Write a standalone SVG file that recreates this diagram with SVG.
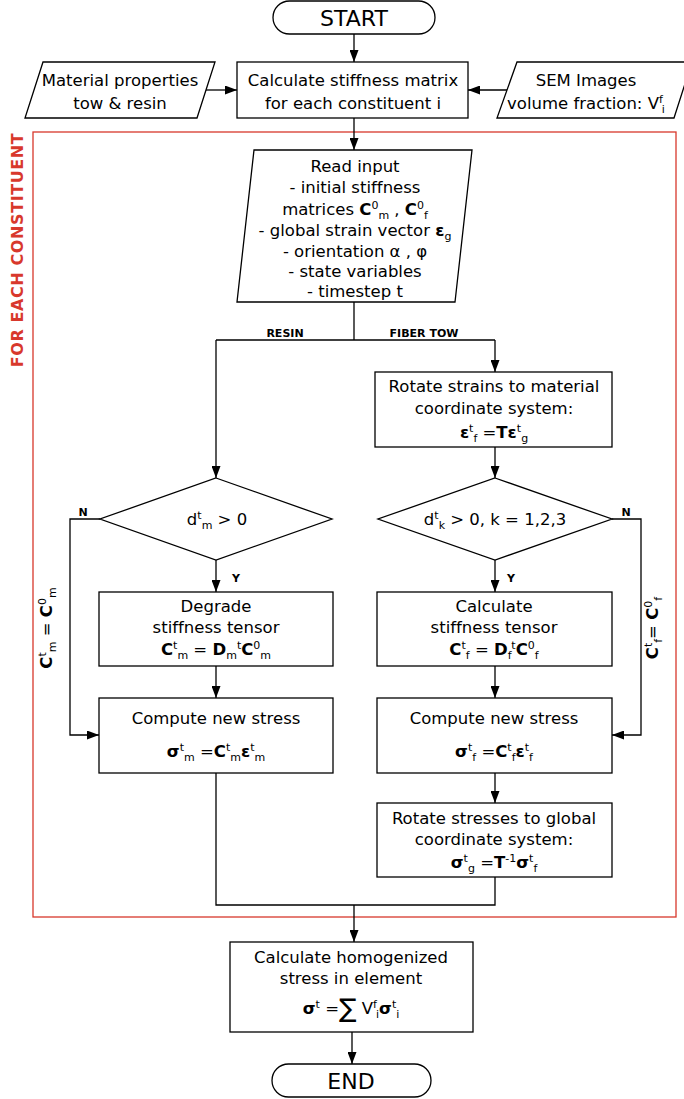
<svg xmlns="http://www.w3.org/2000/svg" width="684" height="1099" viewBox="0 0 684 1099">
<style>
.t{font-family:"DejaVu Sans",Verdana,sans-serif;font-size:16.5px;fill:#000;text-anchor:middle;font-variant-ligatures:none}
.s{font-size:11px;font-weight:normal}
.b{font-weight:bold}
.lbl{font-family:"DejaVu Sans",Verdana,sans-serif;font-size:11px;font-weight:bold;fill:#000;text-anchor:middle}
.big{font-size:22px}
.box{fill:#fff;stroke:#000;stroke-width:1.3}
.ln{fill:none;stroke:#000;stroke-width:1.3}
.arr{fill:none;stroke:#000;stroke-width:1.3;marker-end:url(#ah)}
</style>
<defs>
<marker id="ah" viewBox="0 0 12 9" refX="12" refY="4.5" markerWidth="12" markerHeight="9" markerUnits="userSpaceOnUse" orient="auto"><path d="M0,0 L12,4.5 L0,9 z" fill="#000"/></marker>
</defs>
<rect width="684" height="1099" fill="#fff"/>

<g id="loop">
<rect x="33" y="132" width="643" height="785" fill="none" stroke="#d8382c" stroke-width="1.3"/>
<text transform="translate(23,250) rotate(-90)" style="font-family:'DejaVu Sans',Verdana,sans-serif;font-size:16px;font-weight:bold;fill:#d8382c;text-anchor:middle;letter-spacing:0.6px">FOR EACH CONSTITUENT</text>
</g>

<g id="connectors">
<path class="arr" d="M354,34 V62"/>
<path class="arr" d="M206,90 H237"/>
<path class="arr" d="M507,90 H468"/>
<path class="arr" d="M354,118 V150"/>
<path class="ln" d="M354,302 V340"/>
<path class="ln" d="M216,340 H495"/>
<path class="arr" d="M216,340 V478"/>
<path class="arr" d="M495,340 V372"/>
<path class="arr" d="M495,447 V478"/>
<path class="arr" d="M216,560 V592"/>
<path class="arr" d="M495,560 V592"/>
<path class="arr" d="M216,666 V698"/>
<path class="arr" d="M495,666 V698"/>
<path class="arr" d="M100,519 H70 V735 H99"/>
<path class="arr" d="M612,519 H641 V735 H612"/>
<path class="arr" d="M495,773 V803"/>
<path class="ln" d="M216,773 V905 H495 V877"/>
<path class="arr" d="M354,905 V942"/>
<path class="arr" d="M352,1032 V1064"/>
<text class="lbl" x="285" y="337">RESIN</text>
<text class="lbl" x="424" y="337">FIBER TOW</text>
<text class="lbl" x="83" y="516">N</text>
<text class="lbl" x="626" y="516">N</text>
<text class="lbl" x="236" y="582">Y</text>
<text class="lbl" x="511" y="582">Y</text>
<text class="t b" transform="translate(52,628) rotate(-90)">C<tspan class="s" dy="-6">t</tspan><tspan class="s" dy="10">m</tspan><tspan style="font-weight:normal" dy="-4"> = </tspan>C<tspan class="s" dy="-6">0</tspan><tspan class="s" dy="10">m</tspan></text>
<text class="t b" transform="translate(658,628) rotate(-90)">C<tspan class="s" dy="-6">t</tspan><tspan class="s" dy="10">f</tspan><tspan style="font-weight:normal" dy="-4">= </tspan>C<tspan class="s" dy="-6">0</tspan><tspan class="s" dy="10">f</tspan></text>
</g>

<g id="start">
<rect class="box" x="273" y="1" width="162" height="33" rx="16.5"/>
<text class="t big" x="354" y="26">START</text>
</g>

<g id="material">
<path class="box" d="M43,62 H215 L197,118 H25 Z"/>
<text class="t" x="120" y="86">Material properties</text>
<text class="t" x="120" y="109">tow &amp; resin</text>
</g>

<g id="calc-stiffness">
<rect class="box" x="237" y="62" width="231" height="56"/>
<text class="t" x="353" y="86">Calculate stiffness matrix</text>
<text class="t" x="353" y="109">for each constituent i</text>
</g>

<g id="sem">
<path class="box" d="M517,62 H692 L674,118 H497 Z"/>
<text class="t" x="586" y="86">SEM Images</text>
<text class="t" x="586" y="109">volume fraction: V<tspan class="s" dy="-6">f</tspan><tspan class="s" dy="10" dx="-1">i</tspan></text>
</g>

<g id="read-input">
<path class="box" d="M254,150 H472 L455,302 H237 Z"/>
<text class="t" x="355" y="172">Read input</text>
<text class="t" x="355" y="193">- initial stiffness</text>
<text class="t" x="355" y="215">matrices <tspan class="b">C</tspan><tspan class="s" dy="-6">0</tspan><tspan class="s" dy="10">m</tspan><tspan dy="-4"> , </tspan><tspan class="b">C</tspan><tspan class="s" dy="-6">0</tspan><tspan class="s" dy="10">f</tspan></text>
<text class="t" x="355" y="236">- global strain vector <tspan class="b">ε</tspan><tspan class="s" dy="4">g</tspan></text>
<text class="t" x="355" y="257">- orientation α , φ</text>
<text class="t" x="355" y="277">- state variables</text>
<text class="t" x="355" y="297">- timestep t</text>
</g>

<g id="rotate-strains">
<rect class="box" x="375" y="372" width="237" height="75"/>
<text class="t" x="494" y="392">Rotate strains to material</text>
<text class="t" x="494" y="414">coordinate system:</text>
<text class="t" x="494" y="438"><tspan class="b">ε</tspan><tspan class="s" dy="-6">t</tspan><tspan class="s" dy="10">f</tspan><tspan dy="-4"> =</tspan><tspan class="b">Tε</tspan><tspan class="s" dy="-6">t</tspan><tspan class="s" dy="10">g</tspan></text>
</g>

<g id="decision-resin">
<path class="box" d="M216,478 L332,519 L216,560 L100,519 Z"/>
<text class="t" x="217" y="525">d<tspan class="s" dy="-6">t</tspan><tspan class="s" dy="10">m</tspan><tspan dy="-4"> &gt; 0</tspan></text>
</g>

<g id="decision-fiber">
<path class="box" d="M495,478 L612,519 L495,560 L378,519 Z"/>
<text class="t" x="495" y="525">d<tspan class="s" dy="-6">t</tspan><tspan class="s" dy="10">k</tspan><tspan dy="-4"> &gt; 0, k = 1,2,3</tspan></text>
</g>

<g id="degrade">
<rect class="box" x="99" y="592" width="234" height="74"/>
<text class="t" x="216" y="612">Degrade</text>
<text class="t" x="216" y="633">stiffness tensor</text>
<text class="t" x="216" y="655"><tspan class="b">C</tspan><tspan class="s" dy="-6">t</tspan><tspan class="s" dy="10">m</tspan><tspan dy="-4"> = </tspan><tspan class="b">D</tspan><tspan class="s" dy="4">m</tspan><tspan class="s" dy="-10">t</tspan><tspan class="b" dy="6">C</tspan><tspan class="s" dy="-6">0</tspan><tspan class="s" dy="10">m</tspan></text>
</g>

<g id="calc-tensor">
<rect class="box" x="377" y="592" width="235" height="74"/>
<text class="t" x="494" y="612">Calculate</text>
<text class="t" x="494" y="633">stiffness tensor</text>
<text class="t" x="494" y="655"><tspan class="b">C</tspan><tspan class="s" dy="-6">t</tspan><tspan class="s" dy="10">f</tspan><tspan dy="-4"> = </tspan><tspan class="b">D</tspan><tspan class="s" dy="4">f</tspan><tspan class="s" dy="-10">t</tspan><tspan class="b" dy="6">C</tspan><tspan class="s" dy="-6">0</tspan><tspan class="s" dy="10">f</tspan></text>
</g>

<g id="stress-resin">
<rect class="box" x="99" y="698" width="234" height="75"/>
<text class="t" x="216" y="724">Compute new stress</text>
<text class="t" x="216" y="757"><tspan class="b">σ</tspan><tspan class="s" dy="-6">t</tspan><tspan class="s" dy="10">m</tspan><tspan dy="-4"> =</tspan><tspan class="b">C</tspan><tspan class="s" dy="-6">t</tspan><tspan class="s" dy="10">m</tspan><tspan class="b" dy="-4">ε</tspan><tspan class="s" dy="-6">t</tspan><tspan class="s" dy="10">m</tspan></text>
</g>

<g id="stress-fiber">
<rect class="box" x="377" y="698" width="235" height="75"/>
<text class="t" x="494" y="724">Compute new stress</text>
<text class="t" x="494" y="757"><tspan class="b">σ</tspan><tspan class="s" dy="-6">t</tspan><tspan class="s" dy="10">f</tspan><tspan dy="-4"> =</tspan><tspan class="b">C</tspan><tspan class="s" dy="-6">t</tspan><tspan class="s" dy="10">f</tspan><tspan class="b" dy="-4">ε</tspan><tspan class="s" dy="-6">t</tspan><tspan class="s" dy="10">f</tspan></text>
</g>

<g id="rotate-stresses">
<rect class="box" x="377" y="803" width="235" height="74"/>
<text class="t" x="494" y="824">Rotate stresses to global</text>
<text class="t" x="494" y="845">coordinate system:</text>
<text class="t" x="494" y="868"><tspan class="b">σ</tspan><tspan class="s" dy="-6">t</tspan><tspan class="s" dy="10">g</tspan><tspan dy="-4"> =</tspan><tspan class="b">T</tspan><tspan class="s" dy="-6">-1</tspan><tspan class="b" dy="6">σ</tspan><tspan class="s" dy="-6">t</tspan><tspan class="s" dy="10">f</tspan></text>
</g>

<g id="homogenize">
<rect class="box" x="230" y="942" width="243" height="90"/>
<text class="t" x="351" y="963">Calculate homogenized</text>
<text class="t" x="351" y="984">stress in element</text>
<text class="t" x="351" y="1014"><tspan class="b">σ</tspan><tspan class="s" dy="-6">t</tspan><tspan dy="6"> =</tspan><tspan style="font-size:26px" dy="3">∑</tspan><tspan dy="-3"> V</tspan><tspan class="s" dy="-6">f</tspan><tspan class="s" dy="10" dx="-1">i</tspan><tspan class="b" dy="-4">σ</tspan><tspan class="s" dy="-6">t</tspan><tspan class="s" dy="10">i</tspan></text>
</g>

<g id="end">
<rect class="box" x="272" y="1064" width="159" height="33" rx="16.5"/>
<text class="t big" x="351" y="1089">END</text>
</g>
</svg>
